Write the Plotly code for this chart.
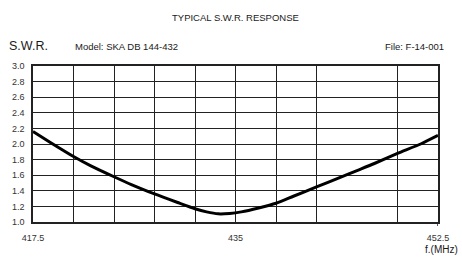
import plotly.graph_objects as go

# Data
freq_mhz = [417.5, 419, 421, 422.5, 424.5, 426, 428, 430, 431.5, 432.5, 433.5,
            434.5, 435.5, 437, 438.5, 440, 442, 444, 445.5, 447, 449, 451, 452.5]
swr = [2.16, 2.02, 1.84, 1.72, 1.58, 1.48, 1.36, 1.25, 1.17, 1.13, 1.105,
       1.11, 1.13, 1.18, 1.24, 1.33, 1.45, 1.57, 1.66, 1.75, 1.88, 2.00, 2.11]

x_grid = [417.5, 421, 424.5, 428, 431.5, 435, 438.5, 442, 449, 452.5]
x_labels = ["417.5", "", "", "", "", "435", "", "", "", "452.5"]
y_ticks = [1.0, 1.2, 1.4, 1.6, 1.8, 2.0, 2.2, 2.4, 2.6, 2.8, 3.0]
y_labels = ["1.0", "1.2", "1.4", "1.6", "1.8", "2.0", "2.2", "2.4", "2.6", "2.8", "3.0"]

title_text = "TYPICAL S.W.R. RESPONSE"
y_title = "S.W.R."
model_text = "Model: SKA DB 144-432"
file_text = "File: F-14-001"
x_title = "f.(MHz)"

font_family = "Liberation Sans, Arial, sans-serif"
ink = "#1a1a1a"

fig = go.Figure()
fig.add_trace(go.Scatter(
    x=freq_mhz, y=swr, mode="lines",
    line=dict(color="#000000", width=3, shape="spline", smoothing=0.6),
    hoverinfo="skip", showlegend=False,
))

fig.update_layout(
    width=462, height=262,
    margin=dict(l=33, r=24, t=66, b=40),
    paper_bgcolor="white", plot_bgcolor="white",
    font=dict(family=font_family, color=ink, size=9),
    xaxis=dict(
        range=[417.5, 452.5], tickmode="array", tickvals=x_grid, ticktext=x_labels,
        showgrid=True, gridcolor="#222222", gridwidth=1.2,
        showline=True, linecolor="#222222", linewidth=1.5, mirror=True,
        zeroline=False, ticks="", ticklabelstandoff=6,
        tickfont=dict(size=9, color="#333333"),
    ),
    yaxis=dict(
        range=[1.0, 3.0], tickmode="array", tickvals=y_ticks, ticktext=y_labels,
        showgrid=True, gridcolor="#222222", gridwidth=1.2,
        showline=True, linecolor="#222222", linewidth=1.5, mirror=True,
        zeroline=False, ticks="", ticklabelstandoff=5,
        tickfont=dict(size=9, color="#333333"),
    ),
    annotations=[
        dict(text=title_text, xref="paper", yref="paper", x=0.5, y=1.0, yshift=49,
             showarrow=False, xanchor="center", yanchor="middle",
             font=dict(size=9.5, color=ink)),
        dict(text=y_title, xref="paper", yref="paper", x=0, y=1.0, xshift=-26, yshift=20,
             showarrow=False, xanchor="left", yanchor="middle",
             font=dict(size=12.5, color=ink)),
        dict(text=model_text, xref="paper", yref="paper", x=0, y=1.0, xshift=40, yshift=20,
             showarrow=False, xanchor="left", yanchor="middle",
             font=dict(size=9.5, color=ink)),
        dict(text=file_text, xref="paper", yref="paper", x=1.0, y=1.0, xshift=8, yshift=20,
             showarrow=False, xanchor="right", yanchor="middle",
             font=dict(size=9.5, color=ink)),
        dict(text=x_title, xref="paper", yref="paper", x=1.0, y=0, xshift=22, yshift=-27,
             showarrow=False, xanchor="right", yanchor="middle",
             font=dict(size=10, color=ink)),
    ],
    shapes=[
        dict(type="line", xref="x", yref="paper", x0=452.5, x1=452.5, y0=0, y1=-0.025,
             line=dict(color="#222222", width=1.5)),
    ],
)

fig.write_html("out.html", config={"displayModeBar": False},
               post_script="document.body.style.margin='0';")
